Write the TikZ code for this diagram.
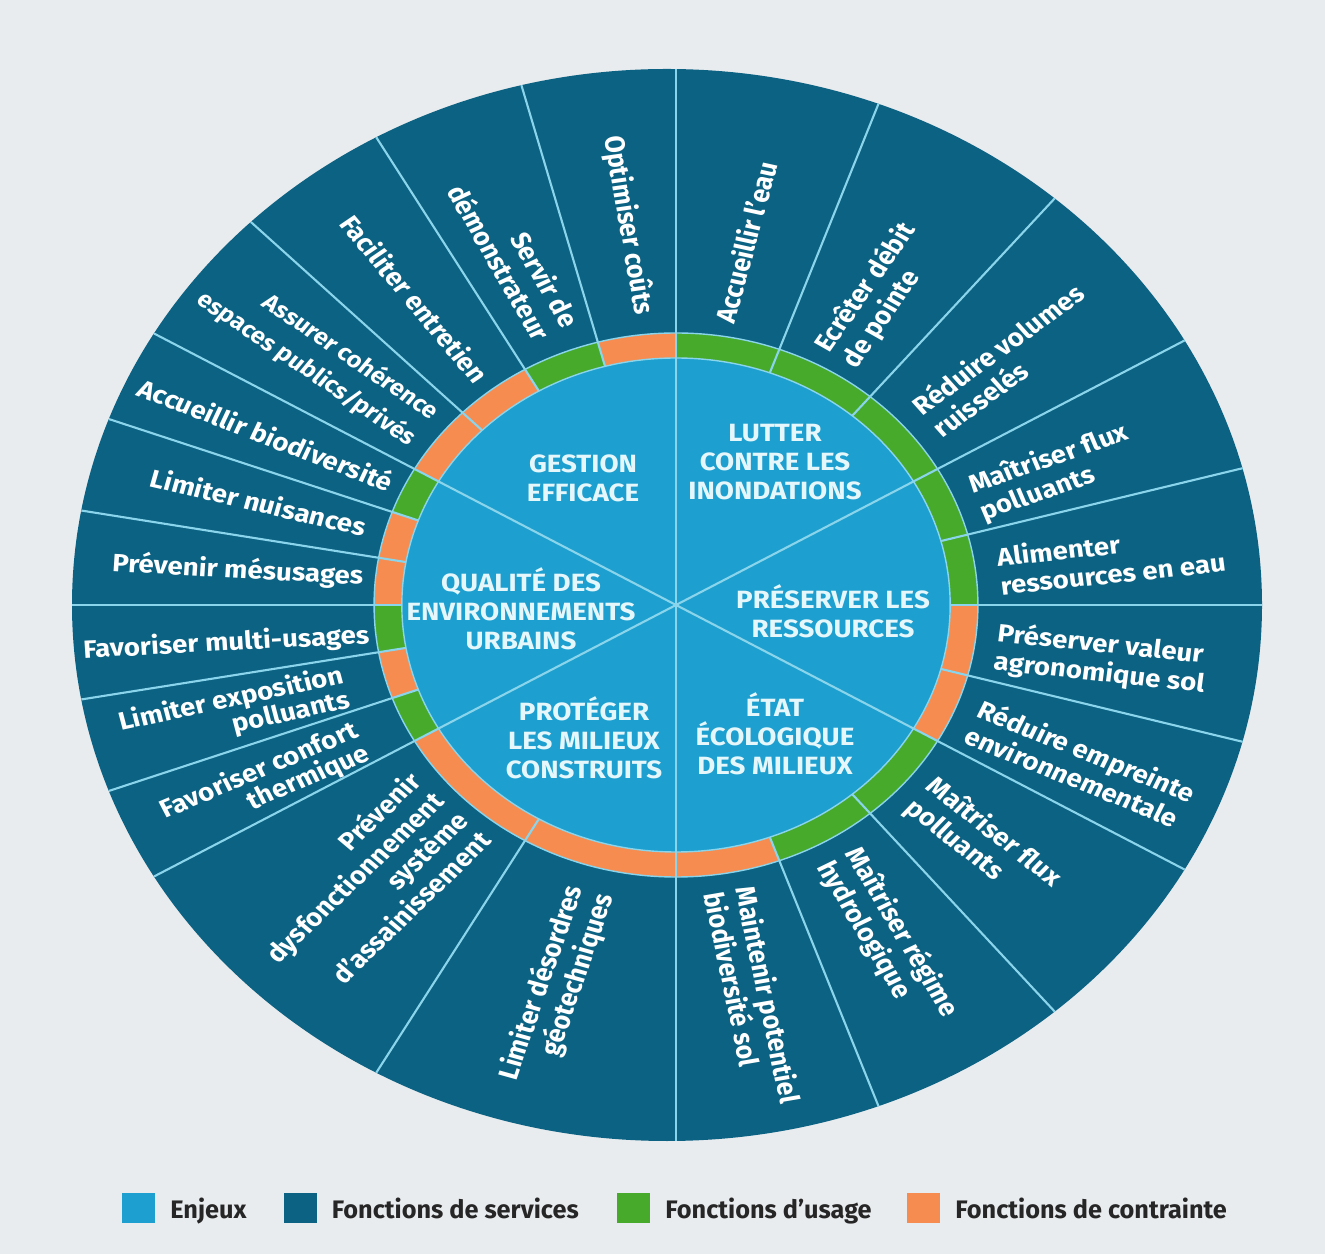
\documentclass[tikz,border=0pt]{standalone}
\usepackage{fontspec}
\setmainfont{Fira Sans}
\usetikzlibrary{positioning}

\definecolor{fond}{HTML}{E9ECEF}
\definecolor{enjeu}{HTML}{1DA0CF}
\definecolor{service}{HTML}{0C6282}
\definecolor{usage}{HTML}{47AA2B}
\definecolor{contrainte}{HTML}{F78C50}
\definecolor{trait}{HTML}{8AD4EC}
\definecolor{texteclair}{HTML}{E6F7FC}

\tikzset{
	enjeulabel/.style={font=\fontsize{7.1}{8.3}\selectfont\bfseries, text=texteclair, align=center, inner sep=0pt, xscale=1.11},
	fonctionlabel/.style={font=\fontsize{7.1}{8.2}\selectfont\bfseries, text=white, inner sep=0pt, xscale=1.11},
	serre/.style={font=\fontsize{7.1}{7.2}\selectfont\bfseries},
	aere/.style={font=\fontsize{6.5}{9.4}\selectfont\bfseries},
	legendbox/.style={minimum width=0.33cm, minimum height=0.30cm, inner sep=0pt},
	legendtext/.style={font=\fontsize{7.2}{8}\selectfont\bfseries, text=black!85, inner sep=0pt, text height=1.5ex, text depth=0.4ex},
	rayon/.style={draw=trait, line width=0.6pt}
}

\begin{document}
\begin{tikzpicture}
	%background
	\fill[fond] (0,0) rectangle (13.25,-12.54);
	\useasboundingbox (0,0) rectangle (13.25,-12.54);
	
	%outer disc (fonctions de services)
	\fill[service] (6.67,-6.05) ellipse [x radius=5.95, y radius=5.36];
	
	\begin{scope}[shift={(6.76,-6.05)}, xscale=1.11]
		%ring
		\fill[usage] (0,0) -- (90:2.72) arc[start angle=90, end angle=0, radius=2.72] -- cycle;
		\fill[contrainte] (0,0) -- (0:2.72) arc[start angle=0, end angle=-30, radius=2.72] -- cycle;
		\fill[usage] (0,0) -- (-30:2.72) arc[start angle=-30, end angle=-70, radius=2.72] -- cycle;
		\fill[contrainte] (0,0) -- (-70:2.72) arc[start angle=-70, end angle=-150, radius=2.72] -- cycle;
		\fill[usage] (0,0) -- (-150:2.72) arc[start angle=-150, end angle=-160, radius=2.72] -- cycle;
		\fill[contrainte] (0,0) -- (-160:2.72) arc[start angle=-160, end angle=-170, radius=2.72] -- cycle;
		\fill[usage] (0,0) -- (-170:2.72) arc[start angle=-170, end angle=-180, radius=2.72] -- cycle;
		\fill[contrainte] (0,0) -- (-180:2.72) arc[start angle=-180, end angle=-200, radius=2.72] -- cycle;
		\fill[usage] (0,0) -- (-200:2.72) arc[start angle=-200, end angle=-210, radius=2.72] -- cycle;
		\fill[contrainte] (0,0) -- (-210:2.72) arc[start angle=-210, end angle=-240, radius=2.72] -- cycle;
		\fill[usage] (0,0) -- (-240:2.72) arc[start angle=-240, end angle=-255, radius=2.72] -- cycle;
		\fill[contrainte] (0,0) -- (-255:2.72) arc[start angle=-255, end angle=-270, radius=2.72] -- cycle;
		
		%inner disc (enjeux)
		\fill[enjeu] (0,0) circle (2.47);
		\draw[draw=trait, line width=0.4pt] (0,0) circle (2.47);
		\draw[draw=trait, line width=0.4pt] (0,0) circle (2.72);
		
		%lines
		\begin{scope}
			\clip (-0.08,0) circle (5.36);
			\draw[rayon] (90:6) -- (-90:6);
			\draw[rayon] (30:6) -- (210:6);
			\draw[rayon] (150:6) -- (-30:6);
			%
			\draw[rayon] (70:2.47) -- (70:6);
			\draw[rayon] (50:2.47) -- (50:6);
			\draw[rayon] (15:2.47) -- (15:6);
			\draw[rayon] (0:2.47) -- (0:6);
			\draw[rayon] (-15:2.47) -- (-15:6);
			\draw[rayon] (-50:2.47) -- (-50:6);
			\draw[rayon] (-70:2.47) -- (-70:6);
			\draw[rayon] (240:2.47) -- (240:6);
			\draw[rayon] (200:2.47) -- (200:6);
			\draw[rayon] (190:2.47) -- (190:6);
			\draw[rayon] (180:2.47) -- (180:6);
			\draw[rayon] (170:2.47) -- (170:6);
			\draw[rayon] (160:2.47) -- (160:6);
			\draw[rayon] (135:2.47) -- (135:6);
			\draw[rayon] (120:2.47) -- (120:6);
			\draw[rayon] (105:2.47) -- (105:6);
		\end{scope}
	\end{scope}
	
	%enjeux labels
	\node[enjeulabel] (lutter) at (7.75,-4.62) {LUTTER\\CONTRE LES\\INONDATIONS};
	\node[enjeulabel] (gestion) at (5.83,-4.78) {GESTION\\EFFICACE};
	\node[enjeulabel] (qualite) at (5.21,-6.09) {QUALITÉ DES\\ENVIRONNEMENTS\\URBAINS};
	\node[enjeulabel] (preserver) at (8.33,-6.11) {PRÉSERVER LES\\RESSOURCES};
	\node[enjeulabel] (proteger) at (5.84,-7.38) {PROTÉGER\\LES MILIEUX\\CONSTRUITS};
	\node[enjeulabel] (etat) at (7.75,-7.34) {ÉTAT\\ÉCOLOGIQUE\\DES MILIEUX};
	
	%fonctions labels, right half
	\node[fonctionlabel, anchor=west, rotate=76.4] (accueau) at (7.24,-3.23) {Accueillir l'eau};
	\node[fonctionlabel, anchor=west, align=left, rotate=57.8] (ecreter) at (8.35,-3.58) {Ecrêter débit\\de pointe};
	\node[fonctionlabel, anchor=west, align=left, rotate=38.9] (volumes) at (9.25,-4.20) {Réduire volumes\\ruisselés};
	\node[fonctionlabel, anchor=west, align=left, rotate=20.9] (fluxa) at (9.75,-5.00) {Maîtriser flux\\polluants};
	\node[fonctionlabel, anchor=west, align=left, rotate=6.7] (alimenter) at (9.98,-5.71) {Alimenter\\ressources en eau};
	\node[fonctionlabel, anchor=west, align=left, rotate=-6.7] (agronomie) at (9.95,-6.48) {Préserver valeur\\agronomique sol};
	\node[fonctionlabel, anchor=west, align=left, rotate=-24.2] (empreinte) at (9.73,-7.20) {Réduire empreinte\\environnementale};
	\node[fonctionlabel, anchor=west, align=left, rotate=-40.9] (fluxb) at (9.19,-7.93) {Maîtriser flux\\polluants};
	\node[fonctionlabel, anchor=west, align=left, rotate=-61.6] (regime) at (8.38,-8.56) {Maîtriser régime\\hydrologique};
	\node[fonctionlabel, anchor=west, align=left, rotate=-79.2] (potentiel) at (7.30,-8.89) {Maintenir potentiel\\biodiversité sol};
	
	%fonctions labels, left half
	\node[fonctionlabel, anchor=east, align=right, rotate=72.8] (geotech) at (5.90,-8.90) {Limiter désordres\\géotechniques};
	\node[fonctionlabel, anchor=east, align=right, rotate=47] (assainissement) at (4.50,-8.05) {Prévenir\\dysfonctionnement\\système\\d'assainissement};
	\node[fonctionlabel, serre, anchor=east, align=right, rotate=25.2] (confort) at (3.63,-7.41) {Favoriser confort\\thermique};
	\node[fonctionlabel, serre, anchor=east, align=right, rotate=13.3] (exposition) at (3.47,-6.88) {Limiter exposition\\polluants};
	\node[fonctionlabel, anchor=east, rotate=3.3] (multiusages) at (3.70,-6.36) {Favoriser multi-usages};
	\node[fonctionlabel, anchor=east, rotate=-3.3] (mesusages) at (3.64,-5.77) {Prévenir mésusages};
	\node[fonctionlabel, anchor=east, rotate=-14.4] (nuisances) at (3.67,-5.27) {Limiter nuisances};
	\node[fonctionlabel, anchor=east, rotate=-23.1] (biodiv) at (3.93,-4.83) {Accueillir biodiversité};
	\node[fonctionlabel, aere, anchor=east, align=right, rotate=-36.8] (coherence) at (4.25,-4.28) {Assurer cohérence\\espaces publics/privés};
	\node[fonctionlabel, anchor=east, rotate=-52.9] (entretien) at (4.83,-3.80) {Faciliter entretien};
	\node[fonctionlabel, anchor=east, align=right, rotate=-62.5] (demonstrateur) at (5.58,-3.32) {Servir de\\démonstrateur};
	\node[fonctionlabel, anchor=east, rotate=-81] (couts) at (6.44,-3.15) {Optimiser coûts};
	
	%legend
	\node[legendbox, fill=enjeu] (legenjeu) at (1.385,-12.08) {};
	\node[legendtext, right=0.14cm of legenjeu] (txtenjeu) {Enjeux};
	\node[legendbox, fill=service] (legservice) at (3.00,-12.08) {};
	\node[legendtext, right=0.14cm of legservice] (txtservice) {Fonctions de services};
	\node[legendbox, fill=usage] (legusage) at (6.335,-12.08) {};
	\node[legendtext, right=0.14cm of legusage] (txtusage) {Fonctions d'usage};
	\node[legendbox, fill=contrainte] (legcontrainte) at (9.235,-12.08) {};
	\node[legendtext, right=0.14cm of legcontrainte] (txtcontrainte) {Fonctions de contrainte};
\end{tikzpicture}
\end{document}
